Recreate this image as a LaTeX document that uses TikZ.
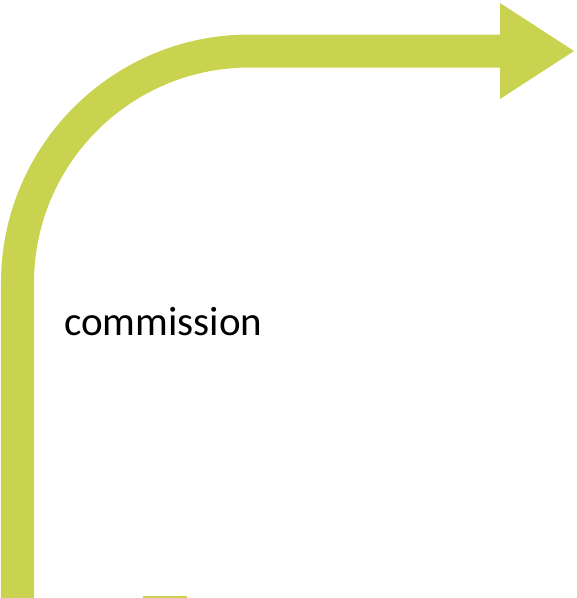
\documentclass[tikz,border=0pt]{standalone}
\usepackage{fontspec}
\setmainfont{Carlito}
\definecolor{bentgreen}{RGB}{201,211,80}
\tikzset{bent/.style={draw=bentgreen, line width=33pt}}
\begin{document}
\begin{tikzpicture}[x=1pt,y=-1pt]
    \useasboundingbox (0,0) rectangle (577,598);
    \coordinate (foot) at (17.5,598);
    \coordinate (knee) at (17.5,51);
    \coordinate (neck) at (501,51);
    \draw[bent, rounded corners=232pt] (foot)--(knee)--(neck);
    \fill[bentgreen] (500,3)--(574,51)--(500,99)--cycle;
    \fill[bentgreen] (143,596) rectangle (187,598);
    \node[anchor=base west, inner sep=0pt, font=\fontsize{41}{49}\selectfont] (comm) at (64,335) {commission};
\end{tikzpicture}
\end{document}
